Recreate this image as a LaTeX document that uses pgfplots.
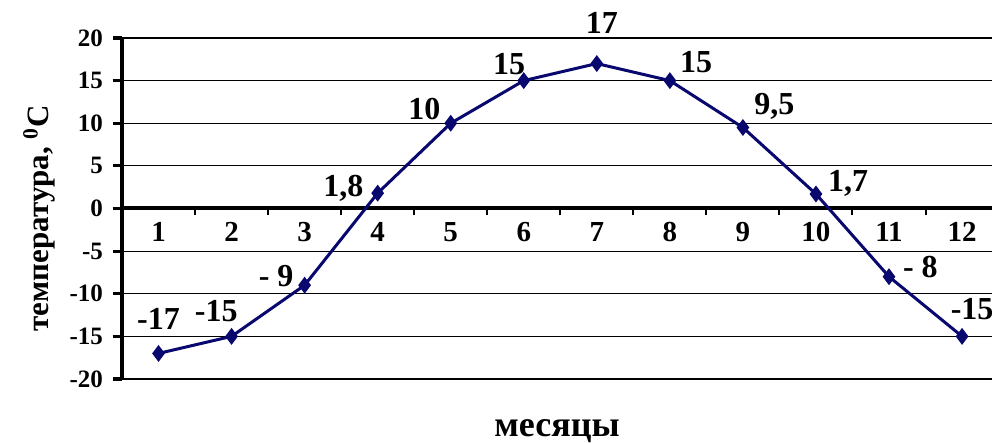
\documentclass[border=0pt]{standalone}
\usepackage{pgfplots}
\pgfplotsset{compat=1.18}
\usepackage{fontspec}
\setmainfont{Liberation Serif}
\definecolor{navyline}{RGB}{8,8,110}
\begin{document}
\begin{tikzpicture}
\path[use as bounding box] (-61pt,-32pt) rectangle (435pt,189.5pt);
\begin{axis}[
  scale only axis, width=435pt, height=170.5pt,
  xmin=0.5, xmax=12.41, ymin=-20, ymax=20,
  clip=false,
  axis x line=middle, axis y line=left,
  axis line style={-},
  x axis line style={line width=2pt},
  tick align=outside,
  xtick={1,...,12},
  xticklabels={1,2,3,4,5,6,7,8,9,10,11,12},
  major x tick style={draw=none},
  minor xtick={1.5,2.5,...,11.5},
  minor tick length=3.5pt,
  minor x tick style={line width=1pt, black},
  ytick={-20,-15,-10,-5,0,5,10,15,20},
  yticklabels={-20,-15,-10,-5,0,5,10,15,20},
  major tick length=4.5pt,
  y tick style={line width=1.6pt, black},
  ymajorgrids,
  major grid style={black, line width=0.6pt},
  xticklabel style={font=\bfseries\fontsize{14.5}{14.5}\selectfont, yshift=1pt},
  yticklabel style={font=\bfseries\fontsize{12.5}{13}\selectfont, xshift=-1.5pt},
  ylabel={температура, \textsuperscript{0}C},
  ylabel style={font=\bfseries\fontsize{15.5}{16}\selectfont, at={(axis description cs:-0.0954,0.472)}, anchor=center},
  xlabel={месяцы},
  xlabel style={font=\bfseries\fontsize{18}{20}\selectfont, at={(axis description cs:0.5,0)}, anchor=center, yshift=-26pt},
]
\draw[line width=1.8pt, black] (rel axis cs:0,0) -- (rel axis cs:0,1);
\addplot[navyline, line width=1.5pt, mark=diamond*, mark size=3pt] coordinates {
(1,-17) (2,-15) (3,-9) (4,1.8) (5,10) (6,15) (7,17) (8,15) (9,9.5) (10,1.7) (11,-8) (12,-15)
};
\begin{scope}[every node/.style={font=\bfseries\fontsize{16}{16}\selectfont, inner sep=0pt}]
\node at (axis cs:1.0,-12.9) {-17};
\node at (axis cs:1.79,-12.0) {-15};
\node at (axis cs:2.61,-7.9) {- 9};
\node at (axis cs:3.53,2.35) {1,8};
\node at (axis cs:4.64,11.7) {10};
\node at (axis cs:5.80,16.9) {15};
\node at (axis cs:7.07,21.8) {17};
\node at (axis cs:8.36,17.2) {15};
\node at (axis cs:9.43,12.0) {9,5};
\node at (axis cs:10.44,2.9) {1,7};
\node at (axis cs:11.43,-6.9) {- 8};
\node[anchor=west] at (axis cs:11.84,-11.85) {-15};
\end{scope}
\end{axis}
\end{tikzpicture}
\end{document}
